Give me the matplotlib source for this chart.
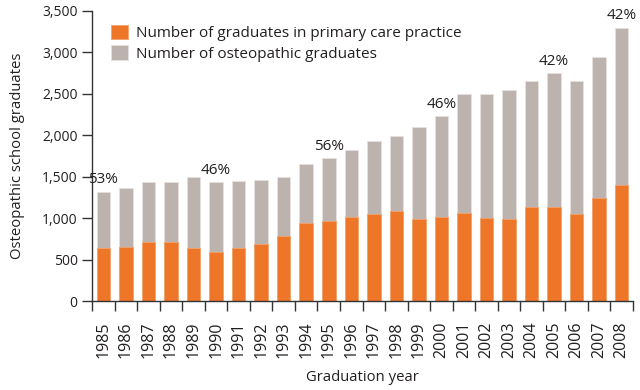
import numpy as np
import matplotlib.pyplot as plt
from matplotlib.ticker import FuncFormatter

plt.rcParams['font.family'] = ['Open Sans', 'DejaVu Sans']

# Dati
years = [str(y) for y in range(1985, 2009)]
total_grads = [1320, 1365, 1435, 1435, 1495, 1435, 1445, 1460, 1495, 1650, 1720, 1825,
               1930, 1995, 2095, 2230, 2495, 2495, 2545, 2650, 2750, 2660, 2950, 3300]
primary_care = [645, 655, 710, 710, 645, 590, 645, 690, 790, 940, 970, 1015,
                1050, 1090, 990, 1020, 1065, 1005, 990, 1140, 1140, 1050, 1245, 1395]
pct_years = ['1985', '1990', '1995', '2000', '2005', '2008']
pct_labels = ['53%', '46%', '56%', '46%', '42%', '42%']

orange = '#ee7628'
grey = '#bcb3ae'
dark = '#231f20'
axcol = '#333333'

fig = plt.figure(figsize=(6.4, 3.9), dpi=100)
ax = fig.add_axes([0.144, 0.228, 0.845, 0.744])

x = np.arange(len(years))
ax.bar(x, total_grads, width=0.6, color=grey, edgecolor='#e6e1de', linewidth=0.6,
       label='Number of osteopathic graduates')
ax.bar(x, primary_care, width=0.6, color=orange, edgecolor='#f4a36c', linewidth=0.6,
       label='Number of graduates in primary care practice')

# etichette percentuali sopra le barre
for yr, lab in zip(pct_years, pct_labels):
    i = years.index(yr)
    ax.annotate(lab, (x[i], total_grads[i]), xytext=(0, 3), textcoords='offset points',
                ha='center', va='bottom', fontsize=11, color=dark)

ax.set_xlim(-0.5, len(years) - 0.5)
ax.set_ylim(0, 3500)
ax.set_yticks(np.arange(0, 3501, 500))
ax.yaxis.set_major_formatter(FuncFormatter(lambda v, p: f'{int(v):,}'))

# tacche tra le barre, etichette centrate
ax.set_xticks(x)
ax.set_xticklabels(years, rotation=90, fontsize=11.5, color=dark)
ax.set_xticks(np.arange(-0.5, len(years)), minor=True)
ax.tick_params(axis='x', which='major', length=0, pad=15)
ax.tick_params(axis='x', which='minor', length=7, width=1, color=axcol)
ax.tick_params(axis='y', length=7, width=1, color=axcol, labelsize=10, labelcolor=dark)

for s in ['top', 'right']:
    ax.spines[s].set_visible(False)
for s in ['left', 'bottom']:
    ax.spines[s].set_color(axcol)
    ax.spines[s].set_linewidth(1)

ax.set_xlabel('Graduation year', fontsize=10.7, color=dark, labelpad=8)
ax.set_ylabel('Osteopathic school graduates', fontsize=10.7, color=dark, labelpad=12)

h, l = ax.get_legend_handles_labels()
ax.legend(h[::-1], l[::-1], loc='upper left', bbox_to_anchor=(0.01, 1.0), frameon=False,
          fontsize=11, handlelength=1.1, handleheight=1.1, handletextpad=0.5,
          labelspacing=0.25, labelcolor=dark)

fig.savefig('out.png', dpi=100)
